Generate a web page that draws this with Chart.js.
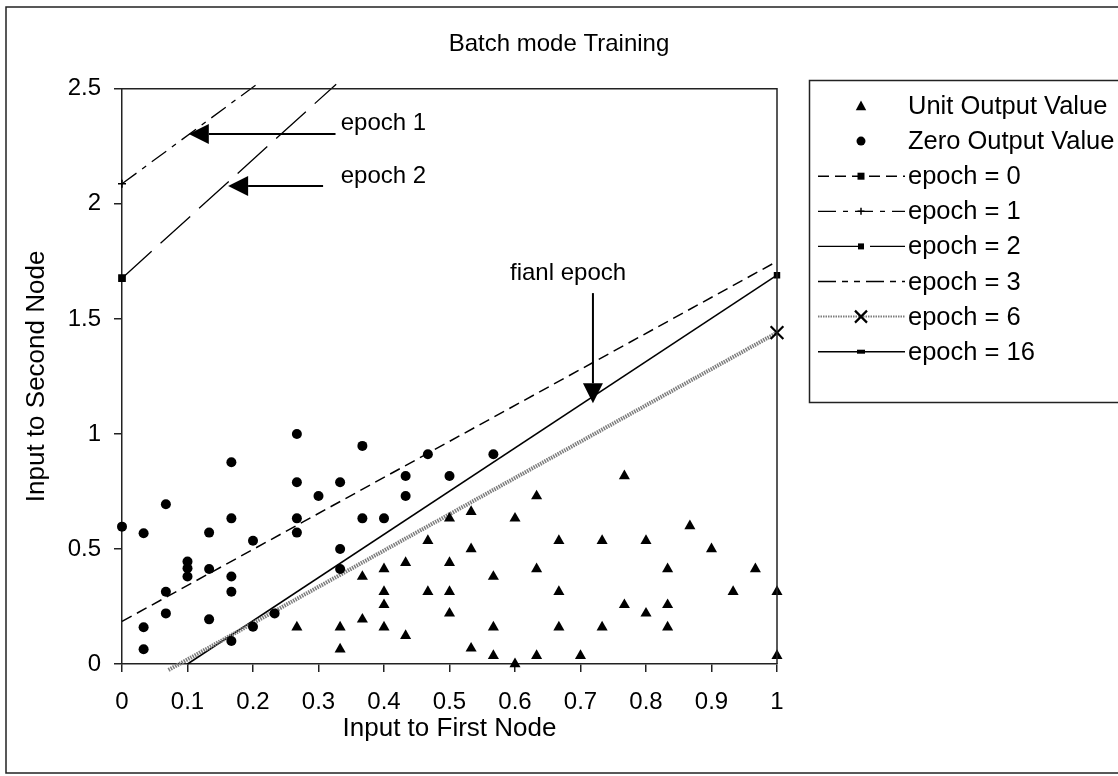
<!DOCTYPE html>
<html><head><meta charset="utf-8">
<script src="https://cdn.jsdelivr.net/npm/chart.js@4/dist/chart.umd.min.js"></script>
<style>html,body{margin:0;padding:0;background:#fff}canvas{display:block}</style>
</head><body>
<canvas id="c" width="1118" height="776"></canvas>
<script>
const chartTitle = 'Batch mode Training';
const xAxisTitle = 'Input to First Node';
const yAxisTitle = 'Input to Second Node';
const xTickLabels = ['0','0.1','0.2','0.3','0.4','0.5','0.6','0.7','0.8','0.9','1'];
const yTickLabels = ['0','0.5','1','1.5','2','2.5'];

const unitLabel = 'Unit Output Value';
const unitX = [0.267,0.333,0.333,0.367,0.367,0.4,0.4,0.4,0.4,0.433,0.433,0.467,0.467,0.5,0.5,0.5,0.5,
  0.533,0.533,0.533,0.567,0.567,0.567,0.6,0.6,0.633,0.633,0.633,0.667,0.667,0.667,0.7,0.733,0.733,
  0.767,0.767,0.8,0.8,0.833,0.833,0.833,0.867,0.9,0.933,0.967,1,1];
const unitY = [0.16,0.16,0.064,0.38,0.194,0.413,0.314,0.257,0.16,0.44,0.123,0.536,0.314,0.633,0.44,0.314,0.22,
  0.662,0.5,0.068,0.38,0.16,0.036,0.633,0.0,0.73,0.413,0.036,0.536,0.314,0.16,0.036,0.536,0.16,
  0.817,0.257,0.536,0.22,0.413,0.257,0.16,0.6,0.5,0.314,0.413,0.314,0.036];

const zeroLabel = 'Zero Output Value';
const zeroX = [0,0.033,0.033,0.033,0.067,0.067,0.067,0.1,0.1,0.1,0.133,0.133,0.133,
  0.167,0.167,0.167,0.167,0.167,0.2,0.2,0.233,0.267,0.267,0.267,0.267,0.3,0.333,0.333,0.333,
  0.367,0.367,0.4,0.433,0.433,0.467,0.5,0.567];
const zeroY = [0.597,0.568,0.16,0.064,0.694,0.314,0.22,0.445,0.416,0.38,0.571,0.413,0.194,
  0.877,0.633,0.38,0.314,0.1,0.536,0.162,0.22,1.0,0.79,0.633,0.571,0.73,0.79,0.5,0.413,
  0.948,0.633,0.633,0.817,0.73,0.912,0.817,0.912];

const epochLabels = ['epoch = 0','epoch = 1','epoch = 2','epoch = 3','epoch = 6','epoch = 16'];
const epoch0X = [0, 1];        const epoch0Y = [0.185, 1.75];
const epoch1X = [0, 0.206];    const epoch1Y = [2.087, 2.52];
const epoch2X = [0, 0.327];    const epoch2Y = [1.677, 2.52];
const epoch3X = [];            const epoch3Y = [];
const epoch6X = [0.071, 1];    const epoch6Y = [-0.026, 1.44];
const epoch16X = [0.1, 1];     const epoch16Y = [0, 1.69];

const noteTexts  = ['epoch 1','epoch 2','fianl epoch'];
const noteTextX  = [0.334, 0.334, 0.681];
const noteTextY  = [2.351, 2.119, 1.699];
const arrowFromX = [0.326, 0.307, 0.719];
const arrowFromY = [2.304, 2.078, 1.612];
const arrowToX   = [0.102, 0.162, 0.719];
const arrowToY   = [2.304, 2.078, 1.133];

const FONT = "'Liberation Sans', Arial, Helvetica, sans-serif";
Chart.defaults.font.family = FONT;
Chart.defaults.color = '#000';

const pts = (xs, ys) => xs.map((x, i) => ({x, y: ys[i]}));

function drawMarker(ctx, style, x, y, r) {
  ctx.save();
  ctx.fillStyle = '#000'; ctx.strokeStyle = '#000';
  ctx.beginPath();
  if (style === 'triangle') {
    ctx.moveTo(x, y - r); ctx.lineTo(x + r * 0.95, y + r * 0.75); ctx.lineTo(x - r * 0.95, y + r * 0.75);
    ctx.closePath(); ctx.fill();
  } else if (style === 'circle') {
    ctx.arc(x, y, r, 0, Math.PI * 2); ctx.fill();
  } else if (style === 'rect') {
    ctx.rect(x - r, y - r, 2 * r, 2 * r); ctx.fill();
  } else if (style === 'dash') {
    ctx.rect(x - r, y - r / 2, 2 * r, r); ctx.fill();
  } else if (style === 'cross') {
    ctx.lineWidth = 1.5;
    ctx.moveTo(x - r, y); ctx.lineTo(x + r, y); ctx.moveTo(x, y - r); ctx.lineTo(x, y + r); ctx.stroke();
  } else if (style === 'crossRot') {
    ctx.lineWidth = 2.2;
    ctx.moveTo(x - r, y - r); ctx.lineTo(x + r, y + r); ctx.moveTo(x + r, y - r); ctx.lineTo(x - r, y + r); ctx.stroke();
  }
  ctx.restore();
}

const framePlugin = {
  id: 'frame',
  beforeDraw(chart) {
    const ctx = chart.ctx;
    ctx.save();
    ctx.fillStyle = '#fff'; ctx.fillRect(0, 0, chart.width, chart.height);
    ctx.strokeStyle = '#222'; ctx.lineWidth = 1.5;
    ctx.strokeRect(6, 7, 1130, 766);
    ctx.restore();
  },
  afterDraw(chart) {
    const {ctx, chartArea: a} = chart;
    ctx.save();
    ctx.strokeStyle = '#222'; ctx.lineWidth = 1.5;
    ctx.beginPath();
    ctx.moveTo(a.left, a.top); ctx.lineTo(a.right, a.top); ctx.lineTo(a.right, a.bottom);
    ctx.stroke();
    ctx.restore();
  }
};

const notesPlugin = {
  id: 'notes',
  afterDatasetsDraw(chart) {
    const {ctx, scales: {x, y}} = chart;
    ctx.save();
    ctx.fillStyle = '#000'; ctx.strokeStyle = '#000';
    for (let i = 0; i < noteTexts.length; i++) {
      const x0 = x.getPixelForValue(arrowFromX[i]), y0 = y.getPixelForValue(arrowFromY[i]);
      const x1 = x.getPixelForValue(arrowToX[i]), y1 = y.getPixelForValue(arrowToY[i]);
      const ang = Math.atan2(y1 - y0, x1 - x0);
      const hl = 20, hw = 10;
      const bx = x1 - hl * Math.cos(ang), by = y1 - hl * Math.sin(ang);
      ctx.lineWidth = 2;
      ctx.beginPath(); ctx.moveTo(x0, y0); ctx.lineTo(bx, by); ctx.stroke();
      ctx.beginPath();
      ctx.moveTo(x1, y1);
      ctx.lineTo(bx + hw * Math.sin(ang), by - hw * Math.cos(ang));
      ctx.lineTo(bx - hw * Math.sin(ang), by + hw * Math.cos(ang));
      ctx.closePath(); ctx.fill();
      ctx.font = '24px ' + FONT;
      ctx.textBaseline = 'middle';
      ctx.textAlign = i === 2 ? 'center' : 'left';
      ctx.fillText(noteTexts[i], x.getPixelForValue(noteTextX[i]), y.getPixelForValue(noteTextY[i]));
    }
    ctx.restore();
  }
};

const legendPlugin = {
  id: 'customLegend',
  afterDraw(chart) {
    const ctx = chart.ctx;
    ctx.save();
    ctx.strokeStyle = '#222'; ctx.lineWidth = 1.5;
    ctx.strokeRect(809.5, 80.5, 330, 322);
    ctx.font = '25.5px ' + FONT;
    ctx.textBaseline = 'middle'; ctx.textAlign = 'left'; ctx.fillStyle = '#000';
    chart.data.datasets.forEach((ds, i) => {
      const yy = 106 + i * 35.1;
      if (ds.showLine) {
        ctx.save();
        ctx.strokeStyle = ds.borderColor; ctx.lineWidth = ds.legendLineWidth || ds.borderWidth;
        ctx.setLineDash(ds.borderDash || []);
        ctx.beginPath(); ctx.moveTo(818, yy); ctx.lineTo(905, yy); ctx.stroke();
        ctx.restore();
      }
      if (ds.legendMarker) drawMarker(ctx, ds.legendMarker, 861, yy, ds.legendMarkerSize);
      ctx.fillStyle = '#000';
      ctx.fillText(ds.label, 908, yy + 1);
    });
    ctx.restore();
  }
};

const lineBase = {showLine: true, fill: false, clip: 8, pointBorderColor: '#000', pointBackgroundColor: '#000'};

new Chart(document.getElementById('c'), {
  type: 'scatter',
  data: {
    datasets: [
      {label: unitLabel, data: pts(unitX, unitY), pointStyle: 'triangle', pointRadius: 6.4,
        backgroundColor: '#000', borderColor: '#000', borderWidth: 0, clip: false,
        legendMarker: 'triangle', legendMarkerSize: 5.5},
      {label: zeroLabel, data: pts(zeroX, zeroY), pointStyle: 'circle', pointRadius: 5,
        backgroundColor: '#000', borderColor: '#000', borderWidth: 0, clip: false,
        legendMarker: 'circle', legendMarkerSize: 4.5},
      Object.assign({}, lineBase, {label: epochLabels[0], data: pts(epoch0X, epoch0Y),
        borderColor: '#000', borderWidth: 1.5, borderDash: [11, 6], pointRadius: 0,
        legendMarker: 'rect', legendMarkerSize: 3.5}),
      Object.assign({}, lineBase, {label: epochLabels[1], data: pts(epoch1X, epoch1Y),
        borderColor: '#000', borderWidth: 1.3, borderDash: [18, 7, 5, 7],
        pointStyle: 'cross', pointRadius: [4, 0], pointBorderWidth: 1.5,
        legendMarker: 'cross', legendMarkerSize: 3.5}),
      Object.assign({}, lineBase, {label: epochLabels[2], data: pts(epoch2X, epoch2Y),
        borderColor: '#000', borderWidth: 1.3, borderDash: [40, 12],
        pointStyle: 'rect', pointRadius: [4.5, 0],
        legendMarker: 'rect', legendMarkerSize: 3}),
      Object.assign({}, lineBase, {label: epochLabels[3], data: pts(epoch3X, epoch3Y),
        borderColor: '#000', borderWidth: 1.3, borderDash: [18, 6, 6, 6, 6, 6], pointRadius: 0}),
      Object.assign({}, lineBase, {label: epochLabels[4], data: pts(epoch6X, epoch6Y),
        borderColor: '#7d7d7d', borderWidth: 4, borderDash: [1.5, 1], legendLineWidth: 2,
        pointStyle: 'crossRot', pointRadius: [0, 9], pointBorderWidth: 2.2,
        legendMarker: 'crossRot', legendMarkerSize: 6}),
      Object.assign({}, lineBase, {label: epochLabels[5], data: pts(epoch16X, epoch16Y),
        borderColor: '#000', borderWidth: 1.5, pointStyle: 'rect', pointRadius: [0, 3.5],
        legendMarker: 'dash', legendMarkerSize: 4})
    ]
  },
  options: {
    responsive: false,
    animation: false,
    events: [],
    layout: {padding: 0},
    plugins: {
      legend: {display: false},
      tooltip: {enabled: false},
      title: {display: true, text: chartTitle, color: '#000',
        font: {size: 24, weight: 'normal', family: FONT}, padding: {top: 30, bottom: 30}}
    },
    scales: {
      x: {
        type: 'linear', min: 0, max: 1,
        afterBuildTicks: s => { s.ticks = xTickLabels.map(t => ({value: parseFloat(t)})); },
        ticks: {callback: (v, i) => xTickLabels[i], font: {size: 24}, color: '#000', padding: 16,
          maxRotation: 0, autoSkip: false},
        grid: {display: true, drawOnChartArea: false, drawTicks: true, tickLength: 8, color: '#222', lineWidth: 1.5},
        border: {display: true, color: '#222', width: 1.5},
        title: {display: true, text: xAxisTitle, color: '#000', font: {size: 26}, padding: {top: 0, bottom: 32}},
        afterFit: s => { s.height = 112; }
      },
      y: {
        type: 'linear', min: 0, max: 2.5,
        afterBuildTicks: s => { s.ticks = yTickLabels.map(t => ({value: parseFloat(t)})); },
        ticks: {callback: (v, i) => yTickLabels[i], font: {size: 24}, color: '#000', padding: 13},
        grid: {display: true, drawOnChartArea: false, drawTicks: true, tickLength: 8, color: '#222', lineWidth: 1.5},
        border: {display: true, color: '#222', width: 1.5},
        title: {display: true, text: yAxisTitle, color: '#000', font: {size: 26}, padding: {top: 21, bottom: 0}},
        afterFit: s => { s.width = 122; }
      },
      legendSpace: {
        type: 'linear', position: 'right', display: true,
        ticks: {display: false}, grid: {display: false}, border: {display: false},
        afterFit: s => { s.width = 341; }
      }
    }
  },
  plugins: [framePlugin, notesPlugin, legendPlugin]
});
</script>
</body></html>
